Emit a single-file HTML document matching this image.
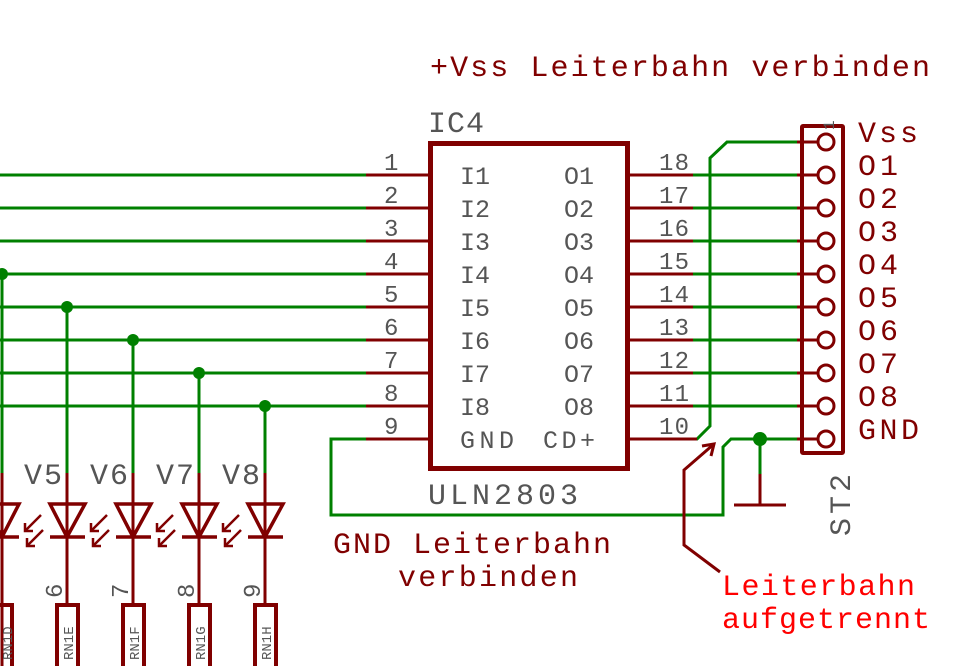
<!DOCTYPE html>
<html><head><meta charset="utf-8"><style>
html,body{margin:0;padding:0;background:#fff;width:974px;height:666px;overflow:hidden}
svg{display:block}
text{font-family:"Liberation Mono","DejaVu Sans Mono",monospace}
.g{fill:#555}
.s{font-family:"DejaVu Sans","Liberation Sans",sans-serif}
.r{fill:#800000}
</style></head><body>
<svg width="974" height="666" viewBox="0 0 974 666" xmlns="http://www.w3.org/2000/svg">
<g stroke-linecap="butt" fill="none">
<g stroke="#008000" stroke-width="3">
<line x1="0" y1="175" x2="366" y2="175"/>
<line x1="0" y1="208" x2="366" y2="208"/>
<line x1="0" y1="241" x2="366" y2="241"/>
<line x1="2" y1="274" x2="366" y2="274"/>
<line x1="0" y1="307" x2="366" y2="307"/>
<line x1="0" y1="340" x2="366" y2="340"/>
<line x1="0" y1="373" x2="366" y2="373"/>
<line x1="0" y1="406" x2="366" y2="406"/>
<polyline points="366,439 331,439 331,515 723,515 723,447 731,439 797,439"/>
<line x1="2" y1="274" x2="2" y2="473"/>
<line x1="67" y1="307" x2="67" y2="473"/>
<line x1="133" y1="340" x2="133" y2="473"/>
<line x1="199" y1="373" x2="199" y2="473"/>
<line x1="265" y1="406" x2="265" y2="473"/>
<line x1="760" y1="439" x2="760" y2="474"/>
<polyline points="797,142 727,142 710,158 710,426 697,439 693,439"/>
<line x1="693" y1="175" x2="797" y2="175"/>
<line x1="693" y1="208" x2="797" y2="208"/>
<line x1="693" y1="241" x2="797" y2="241"/>
<line x1="693" y1="274" x2="797" y2="274"/>
<line x1="693" y1="307" x2="797" y2="307"/>
<line x1="693" y1="340" x2="797" y2="340"/>
<line x1="693" y1="373" x2="797" y2="373"/>
<line x1="693" y1="406" x2="797" y2="406"/>
</g>
<g fill="#008000" stroke="none">
<circle cx="2" cy="274" r="6"/><circle cx="67" cy="307" r="6"/><circle cx="133" cy="340" r="6"/>
<circle cx="199" cy="373" r="6"/><circle cx="265" cy="406" r="6"/><circle cx="760" cy="439" r="7"/>
</g>
<g stroke="#800000" stroke-width="3">
<line x1="366" y1="175" x2="430" y2="175"/><line x1="366" y1="208" x2="430" y2="208"/>
<line x1="366" y1="241" x2="430" y2="241"/><line x1="366" y1="274" x2="430" y2="274"/>
<line x1="366" y1="307" x2="430" y2="307"/><line x1="366" y1="340" x2="430" y2="340"/>
<line x1="366" y1="373" x2="430" y2="373"/><line x1="366" y1="406" x2="430" y2="406"/>
<line x1="366" y1="439" x2="430" y2="439"/>
<line x1="628" y1="175" x2="693" y2="175"/><line x1="628" y1="208" x2="693" y2="208"/>
<line x1="628" y1="241" x2="693" y2="241"/><line x1="628" y1="274" x2="693" y2="274"/>
<line x1="628" y1="307" x2="693" y2="307"/><line x1="628" y1="340" x2="693" y2="340"/>
<line x1="628" y1="373" x2="693" y2="373"/><line x1="628" y1="406" x2="693" y2="406"/>
<line x1="628" y1="439" x2="697" y2="439"/>
<line x1="797" y1="142" x2="817" y2="142"/><line x1="797" y1="175" x2="817" y2="175"/>
<line x1="797" y1="208" x2="817" y2="208"/><line x1="797" y1="241" x2="817" y2="241"/>
<line x1="797" y1="274" x2="817" y2="274"/><line x1="797" y1="307" x2="817" y2="307"/>
<line x1="797" y1="340" x2="817" y2="340"/><line x1="797" y1="373" x2="817" y2="373"/>
<line x1="797" y1="406" x2="817" y2="406"/><line x1="797" y1="439" x2="817" y2="439"/>
<line x1="760" y1="474" x2="760" y2="505"/>
<line x1="734" y1="505" x2="786" y2="505"/>
<polyline points="720,572 684,545 684,470 714,444"/>
<polyline points="702,446 714,444 711,456"/>
<line x1="2" y1="473" x2="2" y2="666"/>
<line x1="67" y1="473" x2="67" y2="603"/>
<line x1="133" y1="473" x2="133" y2="603"/>
<line x1="199" y1="473" x2="199" y2="603"/>
<line x1="265" y1="473" x2="265" y2="603"/>
</g>
<rect x="430.5" y="143.5" width="197" height="325" stroke="#800000" stroke-width="5"/>
<rect x="802" y="126" width="41" height="327" stroke="#800000" stroke-width="4" rx="1"/>
<g stroke="#800000" stroke-width="3" fill="#fff">
<circle cx="826" cy="142" r="8"/><circle cx="826" cy="175" r="8"/><circle cx="826" cy="208" r="8"/>
<circle cx="826" cy="241" r="8"/><circle cx="826" cy="274" r="8"/><circle cx="826" cy="307" r="8"/>
<circle cx="826" cy="340" r="8"/><circle cx="826" cy="373" r="8"/><circle cx="826" cy="406" r="8"/>
<circle cx="826" cy="439" r="8"/>
</g>
<g stroke="#800000" stroke-width="3.5" stroke-linejoin="miter">
<polygon points="-16,504 19,504 2,537"/><line x1="-16" y1="537" x2="19" y2="537"/>
<polygon points="50,504 85,504 67,537"/><line x1="50" y1="537" x2="85" y2="537"/>
<polygon points="116,504 151,504 133,537"/><line x1="116" y1="537" x2="151" y2="537"/>
<polygon points="182,504 217,504 199,537"/><line x1="182" y1="537" x2="217" y2="537"/>
<polygon points="248,504 283,504 265,537"/><line x1="248" y1="537" x2="283" y2="537"/>
</g>
<g stroke="#800000" stroke-width="2.5">
<g id="ar"><line x1="41" y1="515" x2="25" y2="531"/><polyline points="25,523 25,531 33,531"/>
<line x1="43" y1="530" x2="27" y2="546"/><polyline points="27,538 27,546 35,546"/></g>
<use href="#ar" x="66"/><use href="#ar" x="132"/><use href="#ar" x="198"/>
</g>
<g stroke="#800000" stroke-width="4">
<rect x="-9" y="605" width="21" height="70"/>
<rect x="57" y="605" width="21" height="70"/>
<rect x="123" y="605" width="21" height="70"/>
<rect x="189" y="605" width="21" height="70"/>
<rect x="255" y="605" width="21" height="70"/>
</g>
</g>
<g class="g s" font-size="24">
<text x="384" y="170">1</text><text x="384" y="203">2</text><text x="384" y="236">3</text>
<text x="384" y="269">4</text><text x="384" y="302">5</text><text x="384" y="335">6</text>
<text x="384" y="368">7</text><text x="384" y="401">8</text><text x="384" y="434">9</text>
<text x="659" y="170" textLength="30">18</text><text x="659" y="203" textLength="30">17</text><text x="659" y="236" textLength="30">16</text>
<text x="659" y="269" textLength="30">15</text><text x="659" y="302" textLength="30">14</text><text x="659" y="335" textLength="30">13</text>
<text x="659" y="368" textLength="30">12</text><text x="659" y="401" textLength="30">11</text><text x="659" y="434" textLength="30">10</text>
</g>
<g class="g" font-size="25">
<text x="460" y="184">I1</text><text x="460" y="217">I2</text><text x="460" y="250">I3</text>
<text x="460" y="283">I4</text><text x="460" y="316">I5</text><text x="460" y="349">I6</text>
<text x="460" y="382">I7</text><text x="460" y="415">I8</text><text x="460" y="448" textLength="54">GND</text>
<text x="564" y="184">O1</text><text x="564" y="217">O2</text><text x="564" y="250">O3</text>
<text x="564" y="283">O4</text><text x="564" y="316">O5</text><text x="564" y="349">O6</text>
<text x="564" y="382">O7</text><text x="564" y="415">O8</text><text x="543" y="448" textLength="52">CD+</text>
</g>
<g class="g" font-size="30">
<text x="428" y="132" textLength="56">IC4</text>
<text x="428" y="504" textLength="150">ULN2803</text>
<text x="24" y="484" textLength="38">V5</text><text x="90" y="484" textLength="38">V6</text>
<text x="156" y="484" textLength="38">V7</text><text x="222" y="484" textLength="38">V8</text>
<text transform="translate(850,536) rotate(-90)" textLength="62">ST2</text>
</g>
<g class="g s" font-size="24">
<text transform="translate(62,598) rotate(-90)">6</text>
<text transform="translate(128,598) rotate(-90)">7</text>
<text transform="translate(194,598) rotate(-90)">8</text>
<text transform="translate(260,598) rotate(-90)">9</text>
<text transform="translate(834,130) rotate(-90)" font-size="16">1</text>
</g>
<g class="g s" font-size="14">
<text transform="translate(12,660) rotate(-90)">RN1D</text>
<text transform="translate(73,660) rotate(-90)">RN1E</text>
<text transform="translate(139,660) rotate(-90)">RN1F</text>
<text transform="translate(205,660) rotate(-90)">RN1G</text>
<text transform="translate(271,660) rotate(-90)">RN1H</text>
</g>
<g class="r" font-size="30">
<text x="858" y="142" textLength="60">Vss</text>
<text x="858" y="175" textLength="40">O1</text><text x="858" y="208" textLength="40">O2</text>
<text x="858" y="241" textLength="40">O3</text><text x="858" y="274" textLength="40">O4</text>
<text x="858" y="307" textLength="40">O5</text><text x="858" y="340" textLength="40">O6</text>
<text x="858" y="373" textLength="40">O7</text><text x="858" y="406" textLength="40">O8</text>
<text x="858" y="439" textLength="61">GND</text>
<text x="430" y="76" textLength="500">+Vss Leiterbahn verbinden</text>
<text x="333" y="553" textLength="278">GND Leiterbahn</text>
<text x="398" y="586" textLength="180">verbinden</text>
</g>
<g fill="#ff0000" font-size="30">
<text x="722" y="595" textLength="193">Leiterbahn</text>
<text x="722" y="628" textLength="208">aufgetrennt</text>
</g>
</svg>
</body></html>
